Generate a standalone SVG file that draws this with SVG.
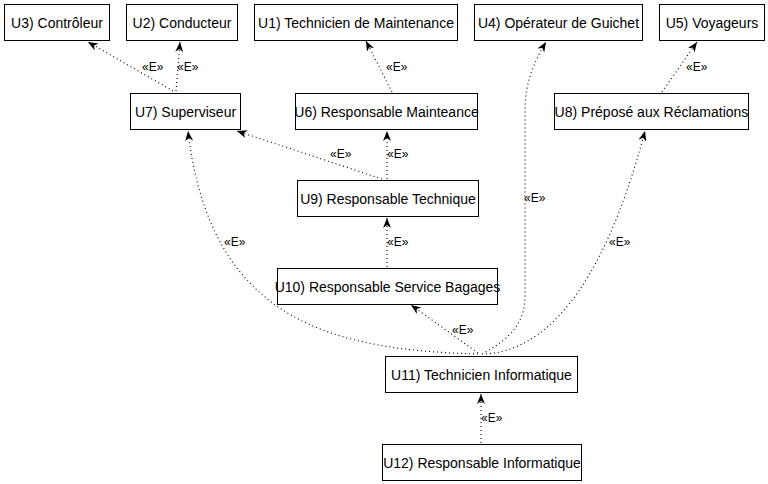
<svg xmlns="http://www.w3.org/2000/svg" width="768" height="484" viewBox="0 0 768 484">
<style>
.box{fill:#fff;stroke:#000;stroke-width:1}
.t{font-family:"Liberation Sans",Arial,sans-serif;font-size:14px;fill:#000;text-anchor:middle;dominant-baseline:central}
.e{fill:none;stroke:#000;stroke-width:1.1;stroke-dasharray:1 3}
.l{font-family:"Liberation Sans",Arial,sans-serif;font-size:12px;fill:#000;dominant-baseline:central}
</style>
<defs>
<marker id="arr" viewBox="0 0 10 8" refX="10" refY="4" markerWidth="10" markerHeight="8" markerUnits="userSpaceOnUse" orient="auto">
<path d="M0,0 L10,4 L0,8 L3,4 Z" fill="#000"/>
</marker>
</defs>
<rect width="768" height="484" fill="#fff"/>
<g id="connectors">
<path class="e" marker-end="url(#arr)" d="M173,91 L88,42"/>
<path class="e" marker-end="url(#arr)" d="M176,91 L180,42"/>
<path class="e" marker-end="url(#arr)" d="M392,92 L366,41"/>
<path class="e" marker-end="url(#arr)" d="M382,179 L237,131"/>
<path class="e" marker-end="url(#arr)" d="M387,179 L387,131"/>
<path class="e" marker-end="url(#arr)" d="M387,267 L387,218"/>
<path class="e" marker-end="url(#arr)" d="M478,353 L411,305"/>
<path class="e" marker-end="url(#arr)" d="M478,354 C330,350 210,320 188,131"/>
<path class="e" marker-end="url(#arr)" d="M482,354 C512,338 525,322 525,295 L525,110 C525,82 535,60 546,42"/>
<path class="e" marker-end="url(#arr)" d="M486,354 C540,350 600,300 645,131"/>
<path class="e" marker-end="url(#arr)" d="M662,92 L697,42"/>
<path class="e" marker-end="url(#arr)" d="M481,443 L481,394"/>
<text class="l" x="142" y="67">«E»</text>
<text class="l" x="177" y="67">«E»</text>
<text class="l" x="386" y="67">«E»</text>
<text class="l" x="330" y="154">«E»</text>
<text class="l" x="387" y="154">«E»</text>
<text class="l" x="387" y="242">«E»</text>
<text class="l" x="224" y="242">«E»</text>
<text class="l" x="524" y="198">«E»</text>
<text class="l" x="609" y="242">«E»</text>
<text class="l" x="452" y="330">«E»</text>
<text class="l" x="686" y="67">«E»</text>
<text class="l" x="481" y="418">«E»</text>
</g>
<g id="U3"><rect class="box" x="4.5" y="4.5" width="105" height="36"/><text class="t" x="57" y="22.5">U3) Contrôleur</text></g>
<g id="U2"><rect class="box" x="126.5" y="4.5" width="111" height="36"/><text class="t" x="182" y="22.5">U2) Conducteur</text></g>
<g id="U1"><rect class="box" x="254.5" y="4.5" width="203" height="36"/><text class="t" x="356" y="22.5">U1) Technicien de Maintenance</text></g>
<g id="U4"><rect class="box" x="474.5" y="4.5" width="168" height="36"/><text class="t" x="558.5" y="22.5">U4) Opérateur de Guichet</text></g>
<g id="U5"><rect class="box" x="659.5" y="4.5" width="105" height="36"/><text class="t" x="712" y="22.5">U5) Voyageurs</text></g>
<g id="U7"><rect class="box" x="130.5" y="93.5" width="110" height="36"/><text class="t" x="185.5" y="111.5">U7) Superviseur</text></g>
<g id="U6"><rect class="box" x="295.5" y="93.5" width="182" height="36"/><text class="t" x="386.5" y="111.5">U6) Responsable Mainteance</text></g>
<g id="U8"><rect class="box" x="554.5" y="93.5" width="194" height="36"/><text class="t" x="651.5" y="111.5">U8) Préposé aux Réclamations</text></g>
<g id="U9"><rect class="box" x="297.5" y="180.5" width="181" height="36"/><text class="t" x="388" y="198.5">U9) Responsable Technique</text></g>
<g id="U10"><rect class="box" x="277.5" y="268.5" width="220" height="36"/><text class="t" x="387.5" y="286.5">U10) Responsable Service Bagages</text></g>
<g id="U11"><rect class="box" x="385.5" y="356.5" width="192" height="36"/><text class="t" x="481.5" y="374.5">U11) Technicien Informatique</text></g>
<g id="U12"><rect class="box" x="382.5" y="444.5" width="199" height="36"/><text class="t" x="482" y="462.5">U12) Responsable Informatique</text></g>
</svg>
